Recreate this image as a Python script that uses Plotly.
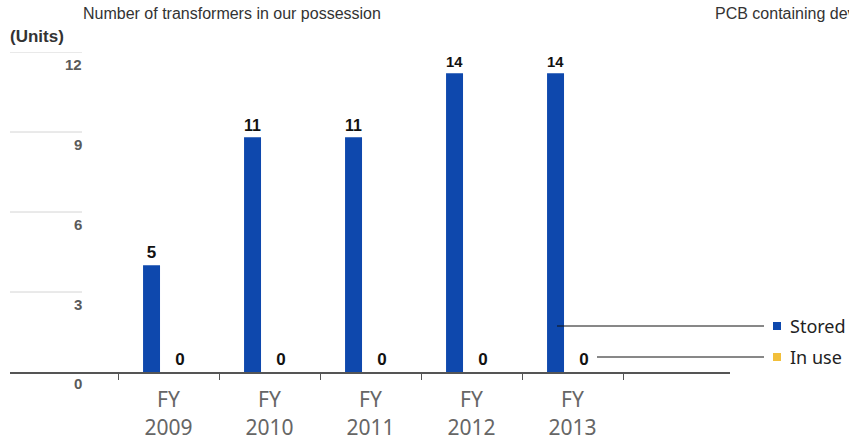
import plotly.graph_objects as go

# Fiscal years and transformer counts
categories = ["FY<br>2009", "FY<br>2010", "FY<br>2011", "FY<br>2012", "FY<br>2013"]
stored = [5, 11, 11, 14, 14]
in_use = [0, 0, 0, 0, 0]

# Y-axis gridline positions and their printed labels
grid_vals = [3.75, 7.5, 11.25, 15]
grid_text = ["3", "6", "9", "12"]

BLUE = "#0e48ad"
YELLOW = "#f2bf3a"

W, H = 849, 446
X0, X1 = 10, 730          # plot area left/right in px
YB, YT = 372, 52          # baseline / top in px


def px_x(p):
    return p / W


def px_y(p):
    return (H - p) / H


fig = go.Figure()

label_font = dict(family="Liberation Sans", size=17, color="#111111", weight="bold")

fig.add_trace(go.Bar(
    x=categories, y=stored, name="Stored",
    marker=dict(color=BLUE, line=dict(width=0)),
    width=0.168, offset=-0.252,
    text=stored, texttemplate="%{y}", textposition="outside",
    textfont=label_font, cliponaxis=False, showlegend=False,
))
fig.add_trace(go.Bar(
    x=categories, y=in_use, name="In use",
    marker=dict(color=YELLOW, line=dict(width=0)),
    width=0.168, offset=0.03,
    text=in_use, texttemplate="%{y}", textposition="outside",
    textfont=label_font, cliponaxis=False, showlegend=False,
))

shapes = []
annotations = []

tick_font = dict(family="Liberation Sans", size=15, color="#5a5a5a", weight="bold")

# short gridlines at the left with labels beneath them
for v, t in zip(grid_vals, grid_text):
    shapes.append(dict(type="line", xref="paper", yref="y",
                       x0=px_x(10), x1=px_x(82), y0=v, y1=v,
                       line=dict(color="#d4d4d4", width=1)))
    annotations.append(dict(xref="paper", yref="y", x=px_x(84), y=v, yshift=-12,
                            text=t, showarrow=False, xanchor="right", yanchor="middle",
                            font=tick_font))
annotations.append(dict(xref="paper", yref="y", x=px_x(84), y=0, yshift=-11,
                        text="0", showarrow=False, xanchor="right", yanchor="middle",
                        font=tick_font))

# headings
annotations.append(dict(xref="paper", yref="paper", x=px_x(81), y=px_y(14),
                        text="Number of transformers in our possession", showarrow=False,
                        xanchor="left", yanchor="middle",
                        font=dict(family="Liberation Sans", size=16, color="#333333")))
annotations.append(dict(xref="paper", yref="paper", x=px_x(713), y=px_y(14),
                        text="PCB containing devices", showarrow=False,
                        xanchor="left", yanchor="middle",
                        font=dict(family="Liberation Sans", size=16, color="#333333")))
annotations.append(dict(xref="paper", yref="paper", x=px_x(8), y=px_y(36),
                        text="<b>(Units)</b>", showarrow=False,
                        xanchor="left", yanchor="middle",
                        font=dict(family="Liberation Sans", size=17, color="#333333")))

# legend with leader lines
legend_items = [("Stored", BLUE, 326, 557), ("In use", YELLOW, 357, 597)]
for name, col, yy, xs in legend_items:
    shapes.append(dict(type="line", xref="paper", yref="paper",
                       x0=px_x(xs), x1=px_x(764), y0=px_y(yy), y1=px_y(yy),
                       line=dict(color="#111111", width=1)))
    shapes.append(dict(type="rect", xref="paper", yref="paper",
                       x0=px_x(773), x1=px_x(781), y0=px_y(yy - 4), y1=px_y(yy + 4),
                       fillcolor=col, line=dict(width=0)))
    annotations.append(dict(xref="paper", yref="paper", x=px_x(788), y=px_y(yy),
                            text=name, showarrow=False, xanchor="left", yanchor="middle",
                            font=dict(family="Noto Sans", size=18, color="#222222")))

fig.update_layout(
    width=W, height=H,
    margin=dict(l=0, r=0, t=0, b=0),
    paper_bgcolor="white", plot_bgcolor="white",
    barmode="overlay",
    shapes=shapes, annotations=annotations,
    xaxis=dict(
        domain=[px_x(X0), px_x(X1)],
        range=[(X0 - 168.5) / 101, (X1 - 168.5) / 101],
        tickson="boundaries", ticks="outside", ticklen=6, tickwidth=1, tickcolor="#555555",
        showline=True, linecolor="#555555", linewidth=2,
        showgrid=False, zeroline=False,
        tickfont=dict(family="Noto Sans", size=21, color="#666666"),
        ticklabelstandoff=8,
    ),
    yaxis=dict(
        domain=[px_y(YB), px_y(YT)],
        range=[0, 15],
        showgrid=False, zeroline=False, showline=False,
        showticklabels=False, ticks="",
    ),
)

fig.write_html("out.html")
